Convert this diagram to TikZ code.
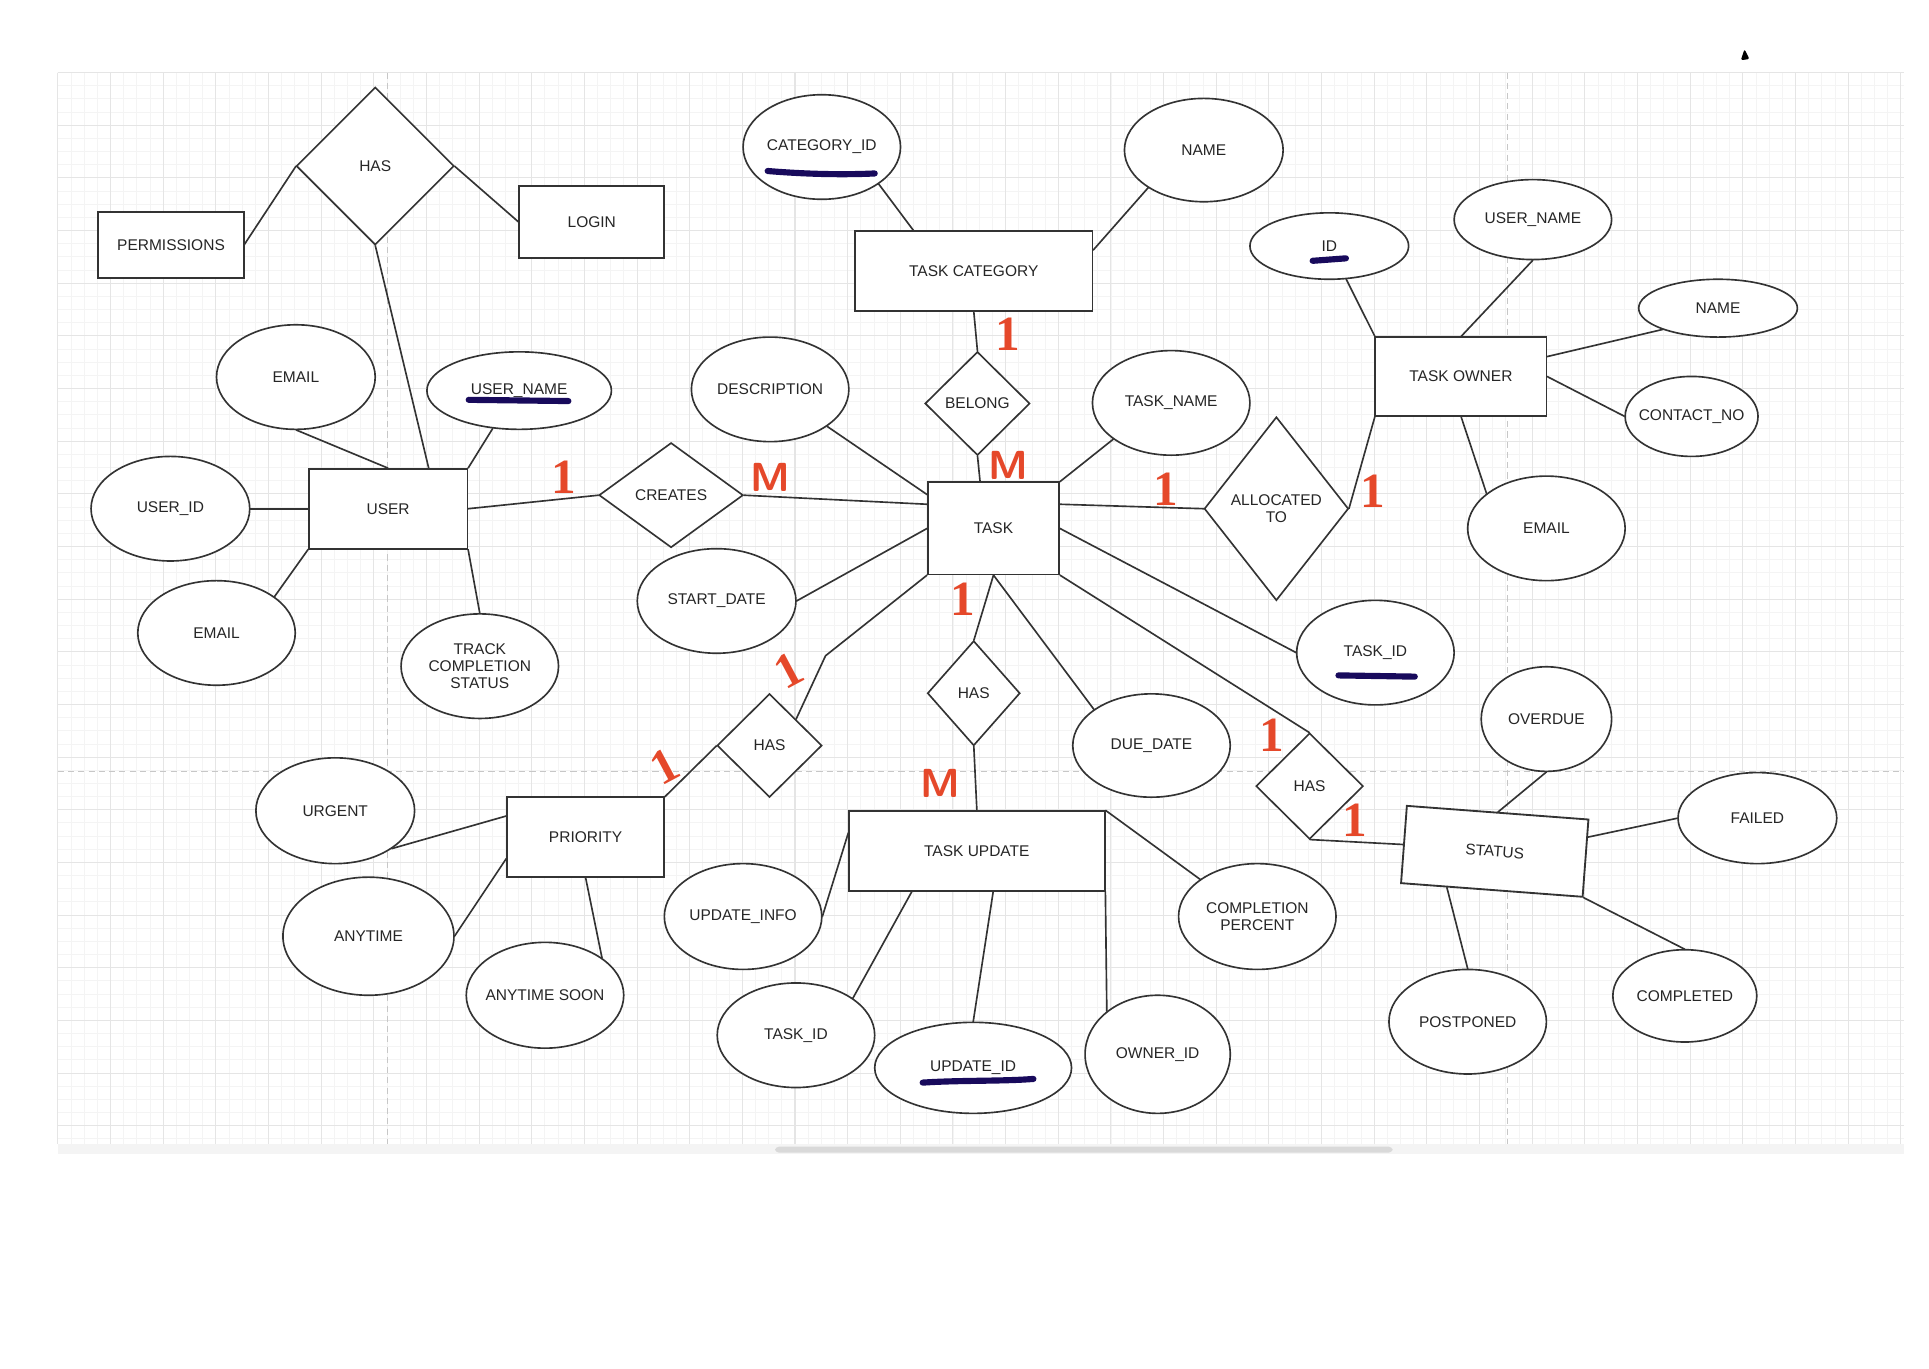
\documentclass[tikz,border=0pt]{standalone}
\usepackage{fontspec}
\setmainfont{Liberation Sans}
\newfontfamily\handone{Liberation Serif}
\usepackage{tikz}
\definecolor{ln}{RGB}{51,51,51}
\definecolor{gmin}{RGB}{244,244,244}
\definecolor{gmaj}{RGB}{229,229,229}
\definecolor{pen}{RGB}{229,72,42}
\definecolor{ink}{RGB}{24,10,92}
\usetikzlibrary{shapes.geometric}

\begin{document}
\begin{tikzpicture}[x=1pt, y=-1pt, scale=0.6, transform shape,
  every node/.style={font=\fontsize{12.6}{14}\selectfont, text=black!85},
  ent/.style={rectangle, draw=ln, line width=0.9pt, fill=white, inner sep=0pt},
  rel/.style={diamond, draw=ln, line width=0.8pt, fill=white, inner sep=0pt},
  att/.style={ellipse, draw=ln, line width=0.8pt, fill=white, inner xsep=-16pt, inner ysep=0pt, align=center},
  link/.style={draw=ln, line width=0.8pt},
  card/.style={text=pen, font=\fontsize{40}{40}\handone\bfseries\selectfont, inner sep=0pt},
  cardm/.style={card, font=\fontsize{33}{33}\sffamily\bfseries\selectfont},
  uline/.style={draw=ink, line width=3pt, line cap=round},
  gridmin/.style={draw=gmin, line width=0.4pt},
  gridmaj/.style={draw=gmaj, line width=0.5pt},
  page/.style={draw=black!22, line width=0.5pt, dash pattern=on 3pt off 2pt}]
\useasboundingbox (0,0) rectangle (1568,1112);
\fill [white] (0,0) rectangle (1568,1112);
\foreach \i in {0,...,140} \draw [gridmin] (47+\i*10.7,59) -- (47+\i*10.7,930);
\foreach \j in {0,...,81} \draw [gridmin] (47,59+\j*10.7) -- (1548,59+\j*10.7);
\foreach \i in {0,...,35} \draw [gridmaj] (47+\i*42.8,59) -- (47+\i*42.8,930);
\foreach \j in {0,...,20} \draw [gridmaj] (47,59+\j*42.8) -- (1548,59+\j*42.8);
\draw [page] (315,59) -- (315,930);
\draw [page] (1225,59) -- (1225,930);
\draw [page] (47,627) -- (1548,627);
\fill [gmin] (47,930) rectangle (1548,938);
\fill [black!15, rounded corners=2] (630,932) rectangle (1132,937);
\fill [black, rounded corners=1] (1415,49) -- (1418,40) -- (1422,48) -- cycle;

\node (perm) [ent, minimum width=118pt, minimum height=54pt] at (139,199) {PERMISSIONS};
\node (login) [ent, minimum width=118pt, minimum height=59pt] at (481,180.5) {LOGIN};
\node (user) [ent, minimum width=129pt, minimum height=65pt] at (315.5,413.5) {USER};
\node (tcat) [ent, minimum width=193pt, minimum height=65pt] at (791.5,220.5) {TASK CATEGORY};
\node (task) [ent, minimum width=107pt, minimum height=75pt] at (807.5,429.5) {TASK};
\node (towner) [ent, minimum width=139pt, minimum height=64pt] at (1187.5,306) {TASK OWNER};
\node (prio) [ent, minimum width=128pt, minimum height=65pt] at (476,680.5) {PRIORITY};
\node (tupd) [ent, minimum width=208pt, minimum height=65pt] at (794,691.5) {TASK UPDATE};
\node (status) [ent, minimum width=148pt, minimum height=63pt, rotate=-4.3] at (1215,692) {STATUS};

\node (hasperm) [rel, minimum width=128pt, minimum height=128pt] at (305,135) {HAS};
\node (creates) [rel, minimum width=117pt, minimum height=85pt] at (545.5,402.5) {CREATES};
\node (belong) [rel, minimum width=85pt, minimum height=84pt] at (794.5,328) {BELONG};
\node (alloc) [rel, minimum width=117pt, minimum height=149pt, align=center] at (1037.5,413.5) {ALLOCATED\\TO};
\node (hasprio) [rel, minimum width=85pt, minimum height=84pt] at (625.5,606) {HAS};
\node (hasupd) [rel, minimum width=75pt, minimum height=85pt] at (791.5,563.5) {HAS};
\node (hasstat) [rel, minimum width=87pt, minimum height=86pt] at (1064.5,639) {HAS};

\node (catid) [att, minimum width=128pt, minimum height=85pt] at (668,119.5) {CATEGORY\_ID};
\node (cname) [att, minimum width=129pt, minimum height=84pt] at (978.5,122) {NAME};
\node (oid) [att, minimum width=129pt, minimum height=54pt] at (1080.5,200) {ID};
\node (ouname) [att, minimum width=128pt, minimum height=65pt] at (1246,178.5) {USER\_NAME};
\node (oname) [att, minimum width=129pt, minimum height=47pt] at (1396.5,250.5) {NAME};
\node (ocontact) [att, minimum width=108pt, minimum height=65pt] at (1375,338.5) {CONTACT\_NO};
\node (oemail) [att, minimum width=128pt, minimum height=85pt] at (1257,429.5) {EMAIL};
\node (uemail) [att, minimum width=129pt, minimum height=85pt] at (240.5,306.5) {EMAIL};
\node (uname) [att, minimum width=150pt, minimum height=63pt] at (422,317.5) {USER\_NAME};
\node (uid) [att, minimum width=129pt, minimum height=85pt] at (138.5,413.5) {USER\_ID};
\node (uemail2) [att, minimum width=128pt, minimum height=85pt] at (176,514.5) {EMAIL};
\node (utrack) [att, minimum width=128pt, minimum height=85pt] at (390,541.5) {TRACK\\COMPLETION\\STATUS};
\node (tdesc) [att, minimum width=128pt, minimum height=85pt] at (626,316.5) {DESCRIPTION};
\node (tname) [att, minimum width=128pt, minimum height=85pt] at (952,327.5) {TASK\_NAME};
\node (tstart) [att, minimum width=129pt, minimum height=85pt] at (582.5,488.5) {START\_DATE};
\node (ttid) [att, minimum width=128pt, minimum height=85pt] at (1118,530.5) {TASK\_ID};
\node (tdue) [att, minimum width=128pt, minimum height=84pt] at (936,606) {DUE\_DATE};
\node (sover) [att, minimum width=106pt, minimum height=85pt] at (1257,584.5) {OVERDUE};
\node (sfail) [att, minimum width=129pt, minimum height=74pt] at (1428.5,665) {FAILED};
\node (scompl) [att, minimum width=117pt, minimum height=75pt] at (1369.5,809.5) {COMPLETED};
\node (spost) [att, minimum width=128pt, minimum height=85pt] at (1193,830.5) {POSTPONED};
\node (ucperc) [att, minimum width=128pt, minimum height=86pt] at (1022,745) {COMPLETION\\PERCENT};
\node (purg) [att, minimum width=129pt, minimum height=86pt] at (272.5,659) {URGENT};
\node (pany) [att, minimum width=139pt, minimum height=96pt] at (299.5,761) {ANYTIME};
\node (psoon) [att, minimum width=128pt, minimum height=86pt] at (443,809) {ANYTIME SOON};
\node (uinfo) [att, minimum width=128pt, minimum height=86pt] at (604,745) {UPDATE\_INFO};
\node (utid) [att, minimum width=128pt, minimum height=85pt] at (647,841.5) {TASK\_ID};
\node (upid) [att, minimum width=160pt, minimum height=74pt] at (791,868) {UPDATE\_ID};
\node (uowner) [att, minimum width=118pt, minimum height=96pt] at (941,857) {OWNER\_ID};
\coordinate (bend) at (671,533);

\draw [link] (perm.east) -- (hasperm.west);
\draw [link] (hasperm.east) -- (login.west);
\draw [link] (hasperm.south) -- (user.45);
\draw [link] (uemail.south) -- (user.north);
\draw [link] (uname.235) -- (user.north east);
\draw [link] (uid.east) -- (user.west);
\draw [link] (uemail2.32) -- (user.south west);
\draw [link] (user.south east) -- (utrack.north);
\draw [link] (user.east) -- (creates.west);
\draw [link] (creates.east) -- (task.160);
\draw [link] (tdesc.-33) -- (task.153);
\draw [link] (tstart.east) -- (task.west);
\draw [link] (task.south west) -- (bend) -- (hasprio.north east);
\draw [link] (hasprio.west) -- (prio.north east);
\draw [link] (purg.-34) -- (prio.165);
\draw [link] (pany.east) -- (prio.195);
\draw [link] (psoon.33) -- (prio.south);
\draw [link] (belong.north) -- (tcat.south);
\draw [link] (belong.south) -- (task.106);
\draw [link] (catid.-33) -- (tcat.146);
\draw [link] (cname.214) -- (tcat.10);
\draw [link] (tname.212) -- (task.north east);
\draw [link] (task.20) -- (alloc.west);
\draw [link] (alloc.east) -- (towner.south west);
\draw [link] (oid.-63) -- (towner.north west);
\draw [link] (ouname.south) -- (towner.north);
\draw [link] (oname.201) -- (towner.13);
\draw [link] (ocontact.west) -- (towner.east);
\draw [link] (towner.south) -- (oemail.150);
\draw [link] (task.east) -- (ttid.west);
\draw [link] (task.south east) -- (hasstat.north);
\draw [link] (task.south) -- (hasupd.north);
\draw [link] (task.south) -- (tdue.148);
\draw [link] (hasupd.south) -- (tupd.north);
\draw [link] (tupd.172) -- (uinfo.east);
\draw [link] (tupd.212) -- (utid.33);
\draw [link] (tupd.-68) -- (upid.north);
\draw [link] (tupd.south east) -- (uowner.140);
\draw [link] (tupd.north east) -- (ucperc.147);
\draw [link] (hasstat.south) -- (status.west);
\draw [link] (status.north) -- (sover.south);
\draw [link] (status.13) -- (sfail.west);
\draw [link] (status.south east) -- (scompl.north);
\draw [link] (status.221) -- (spost.north);

\draw [uline] (624,139) .. controls (660,142) and (690,142) .. (711,141);
\draw [uline] (1067,212) -- (1094,210);
\draw [uline] (381,325) -- (462,326);
\draw [uline] (1088,549) -- (1150,550);
\draw [uline] (750,880) .. controls (780,878) and (815,879) .. (840,877);

\node (c1) [card] at (458,388) {1};
\node (c2) [cardm] at (626,388) {M};
\node (c3) [card] at (819,272) {1};
\node (c4) [cardm] at (820,378) {M};
\node (c5) [card] at (948,398) {1};
\node (c6) [card] at (1116,399) {1};
\node (c7) [card] at (783,487) {1};
\node (c8) [card, rotate=28] at (641,545) {1};
\node (c9) [card, rotate=28] at (540,623) {1};
\node (c10) [cardm] at (764,637) {M};
\node (c11) [card] at (1034,598) {1};
\node (c12) [card] at (1101,667) {1};
\end{tikzpicture}
\end{document}
